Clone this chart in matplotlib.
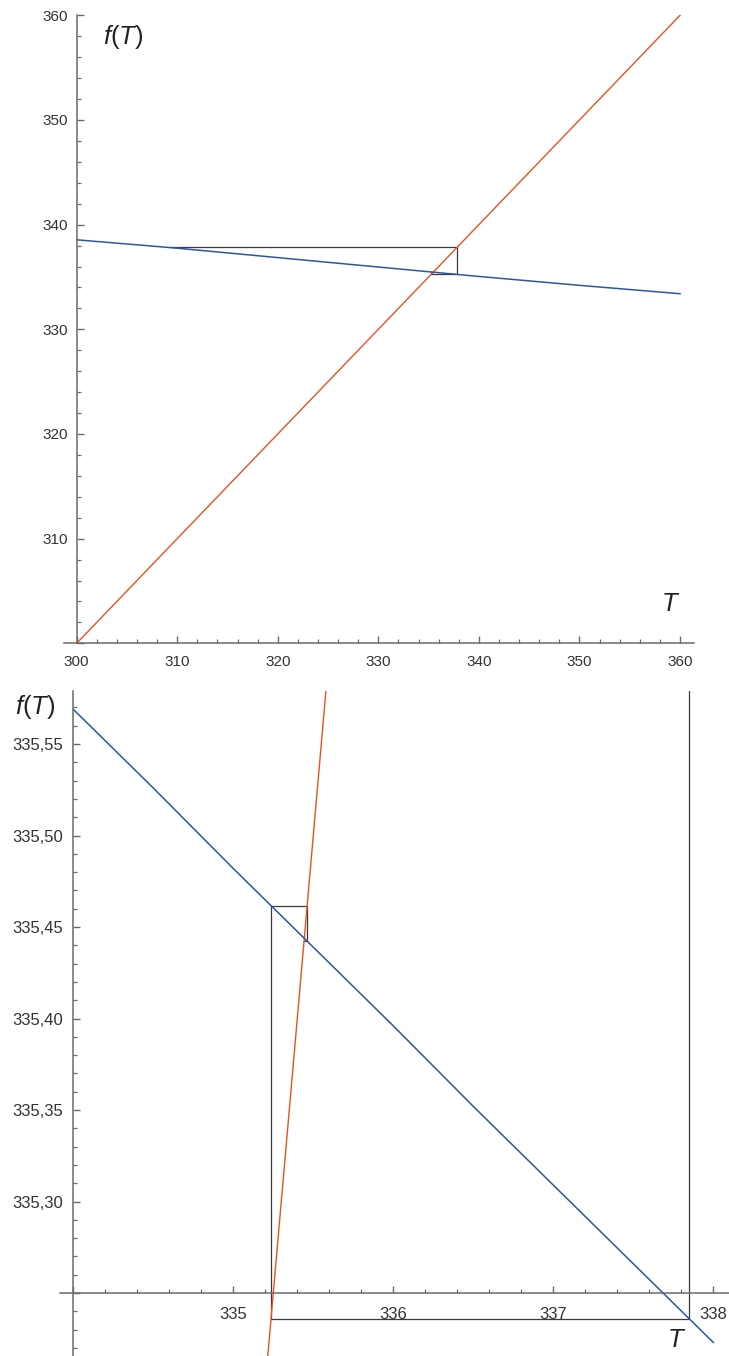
import matplotlib
matplotlib.use("Agg")
import matplotlib.pyplot as plt
from matplotlib.ticker import FixedLocator, FuncFormatter

plt.rcParams["font.family"] = ["Liberation Sans", "DejaVu Sans"]
plt.rcParams["mathtext.fontset"] = "custom"
plt.rcParams["mathtext.rm"] = "Liberation Sans"
plt.rcParams["mathtext.it"] = "Liberation Sans:italic"

# ---- data ----
# full view
blue_T_full = [300, 310, 320, 330, 340, 350, 360]
blue_f_full = [338.55, 337.75, 336.85, 335.95, 335.05, 334.2, 333.4]
ident_full = [300, 360]

# zoomed view near the fixed point
blue_T_zoom = [334.0, 334.5, 335.0, 335.5, 336.0, 336.5, 337.0, 337.5, 338.0]
blue_f_zoom = [335.569, 335.526, 335.482, 335.439, 335.396, 335.352, 335.309, 335.266, 335.223]
ident_zoom = [335.20, 335.60]

# cobweb iterates T0, T1 = f(T0), ...
cobweb = [309.3, 337.85, 335.236, 335.4615, 335.4425]

RED = "#E8521F"
BLUE = "#2B56A3"
AXIS = "#6b6b6b"
TXT = "#333333"


def cobweb_path(vals):
    xs, ys = [vals[0]], [vals[1]]
    for i in range(1, len(vals)):
        xs.append(vals[i]); ys.append(vals[i])
        if i + 1 < len(vals):
            xs.append(vals[i]); ys.append(vals[i + 1])
    return xs, ys


def style_axes(ax, x0, y0, xmaj, xmin, ymaj, ymin, xfmt, yfmt, size, xpad, ypad):
    for s in ("top", "right"):
        ax.spines[s].set_visible(False)
    ax.spines["left"].set_position(("data", x0))
    ax.spines["bottom"].set_position(("data", y0))
    for s in ("left", "bottom"):
        ax.spines[s].set_color(AXIS)
        ax.spines[s].set_linewidth(1.1)
    ax.xaxis.set_major_locator(FixedLocator(xmaj))
    ax.xaxis.set_minor_locator(FixedLocator(xmin))
    ax.yaxis.set_major_locator(FixedLocator(ymaj))
    ax.yaxis.set_minor_locator(FixedLocator(ymin))
    ax.xaxis.set_major_formatter(FuncFormatter(xfmt))
    ax.yaxis.set_major_formatter(FuncFormatter(yfmt))
    ax.tick_params(which="both", direction="in", colors=AXIS, labelcolor=TXT, labelsize=size)
    ax.tick_params(which="major", length=5, width=1.0)
    ax.tick_params(which="minor", length=3, width=0.9)
    ax.tick_params(axis="x", pad=xpad)
    ax.tick_params(axis="y", pad=ypad)
    ax.patch.set_alpha(0)


W, H = 729, 1356
fig = plt.figure(figsize=(W / 100, H / 100), dpi=100)

# ---- top panel ----
ax1 = fig.add_axes([64.3 / W, 1 - 643.3 / H, 630 / W, 628 / H])
ax1.set_xlim(298.77, 361.42)
ax1.set_ylim(300, 360)
cx, cy = cobweb_path(cobweb)
ax1.plot(cx, cy, color="#3a3a3a", lw=0.9)
ax1.plot(ident_full, ident_full, color=RED, lw=1.0)
ax1.plot(blue_T_full, blue_f_full, color=BLUE, lw=1.1)
style_axes(ax1, 300, 300,
           list(range(300, 361, 10)), list(range(302, 360, 2)),
           list(range(300, 361, 10)), list(range(302, 360, 2)),
           lambda v, p: f"{v:.0f}",
           lambda v, p: "" if v == 300 else f"{v:.0f}",
           11, 8.5, 6)
ax1.text(304.6, 357.9, "$f(T)$", fontsize=18.5, color="#222222", ha="center", va="center")
ax1.text(359.07, 303.76, "$T$", fontsize=18.5, color="#222222", ha="center", va="center")

# ---- bottom panel ----
ax2 = fig.add_axes([60.3 / W, 0, (W - 60.3) / W, (H - 691) / H])
ax2.set_xlim(333.919, 338.098)
ax2.set_ylim(335.2156, 335.579)
ax2.plot(cx, cy, color="#3a3a3a", lw=0.9)
ax2.plot(ident_zoom, ident_zoom, color=RED, lw=1.0)
ax2.plot(blue_T_zoom, blue_f_zoom, color=BLUE, lw=1.1)
xmaj2 = [334, 335, 336, 337, 338]
xmin2 = [round(334 + 0.2 * i, 1) for i in range(0, 21)]
ymaj2 = [335.25, 335.30, 335.35, 335.40, 335.45, 335.50, 335.55]
ymin2 = [round(335.22 + 0.01 * i, 2) for i in range(0, 36)]
style_axes(ax2, 334, 335.25, xmaj2, xmin2, ymaj2, ymin2,
           lambda v, p: "" if abs(v - 334) < 1e-6 else f"{v:.0f}",
           lambda v, p: "" if abs(v - 335.25) < 1e-6 else f"{v:.2f}".replace(".", ","),
           12, 10, 7.5)
ax2.text(333.76, 335.570, "$f(T)$", fontsize=18.5, color="#222222", ha="center", va="center")
ax2.text(337.77, 335.2243, "$T$", fontsize=18.5, color="#222222", ha="center", va="center")

fig.savefig("out.png", dpi=100)
